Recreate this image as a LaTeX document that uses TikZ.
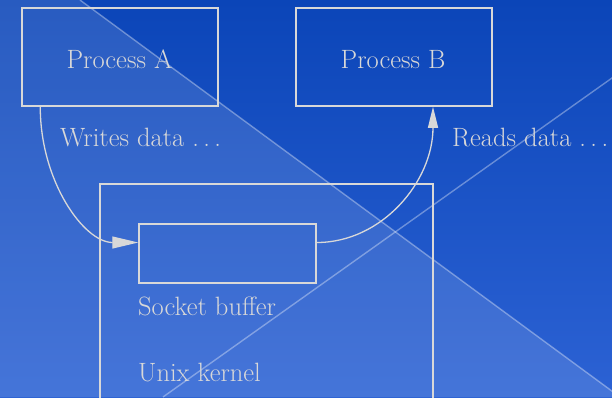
\documentclass[tikz,border=0pt]{standalone}
\usetikzlibrary{arrows.meta}
\definecolor{bgtop}{HTML}{0B45B8}
\definecolor{bgbot}{HTML}{2C62D4}
\definecolor{ink}{HTML}{D8D8D8}
\begin{document}
\begin{tikzpicture}[x=1pt,y=-1pt,
  box/.style={draw=ink,line width=1.5pt,inner sep=0pt},
  lbl/.style={text=ink,font=\fontsize{26.5}{31}\selectfont,inner sep=0pt},
  conn/.style={draw=ink,line width=1.3pt},
  diag/.style={draw=white,draw opacity=0.35,line width=1.4pt}]
\useasboundingbox (0,0) rectangle (612,397);
\clip (0,0) rectangle (612,397);
\shade[top color=bgtop,bottom color=bgbot] (0,0) rectangle (612,397);
\fill[white,opacity=0.12] (80,0) -- (620,397) -- (0,397) -- (0,0) -- cycle;
\draw[diag] (80,0) -- (620,397);
\draw[diag] (620,72.3) -- (163,397);
% boxes
\node[box,minimum width=196pt,minimum height=98pt] (pa) at (120,57) {};
\node[box,minimum width=196pt,minimum height=98pt] (pb) at (394,57) {};
\node[box,minimum width=333pt,minimum height=232pt] (kernel) at (266.5,300) {};
\node[box,minimum width=177pt,minimum height=59pt] (buf) at (227.5,253.5) {};
% labels
\node[lbl,anchor=base] (ta) at (119.5,68) {Process A};
\node[lbl,anchor=base] (tb) at (393,68) {Process B};
\node[lbl,anchor=base west] (wr) at (60,146) {Writes data .\,.\,.};
\node[lbl,anchor=base west] (rd) at (452,146) {Reads data .\,.\,.};
\node[lbl,anchor=base west] (sb) at (138,315) {Socket buffer};
\node[lbl,anchor=base west] (uk) at (138,381) {Unix kernel};
% connectors
\coordinate (s1) at ([xshift=19pt]pa.south west);
\coordinate (e1) at ([yshift=11pt]buf.west);
\coordinate (s2) at ([yshift=11pt]buf.east);
\coordinate (e2) at ([xshift=39pt]pb.south);
\draw[conn,-{Triangle[length=26pt,width=12pt,fill=ink]}] (s1) .. controls +(0,75) and +(-54,0) .. (e1);
\draw[conn,-{Triangle[length=21pt,width=10pt,fill=ink]}] (s2) .. controls +(65,0) and +(0,75) .. (e2);
\end{tikzpicture}
\end{document}
